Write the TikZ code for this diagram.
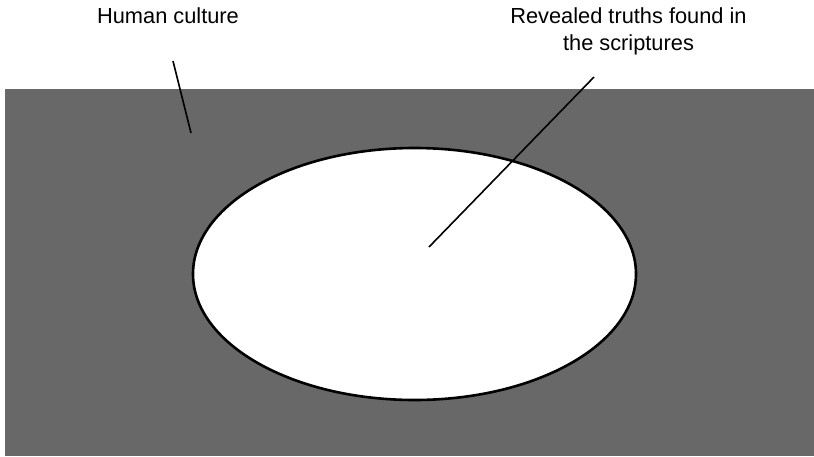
\documentclass[tikz,border=0pt]{standalone}
\usepackage{fontspec}
\setmainfont{Liberation Sans}
\usetikzlibrary{shapes.geometric}
\definecolor{bggray}{RGB}{104,104,104}
\begin{document}
\begin{tikzpicture}[x=1pt,y=-1pt,
  lbl/.style={font=\fontsize{21.8}{27}\selectfont, align=center, inner sep=0pt, anchor=base},
  leader/.style={draw=black, line width=1.6pt}]
\useasboundingbox (0,0) rectangle (814,456);
\fill[bggray] (5,89) rectangle (814,456);
\node[draw=black, line width=2.6pt, fill=white, ellipse, minimum width=443pt, minimum height=252pt, inner sep=0pt] (truths) at (414.5,274) {};
\node[lbl] (hc) at (168,23) {Human culture};
\node[lbl] (rt) at (628.5,50) {Revealed truths found in\\the scriptures};
\coordinate (hcA) at (173,61);
\coordinate (hcB) at (191,133);
\coordinate (rtA) at (594,77);
\coordinate (rtB) at (429,247);
\draw[leader] (hcA) -- (hcB);
\draw[leader] (rtA) -- (rtB);
\end{tikzpicture}
\end{document}
